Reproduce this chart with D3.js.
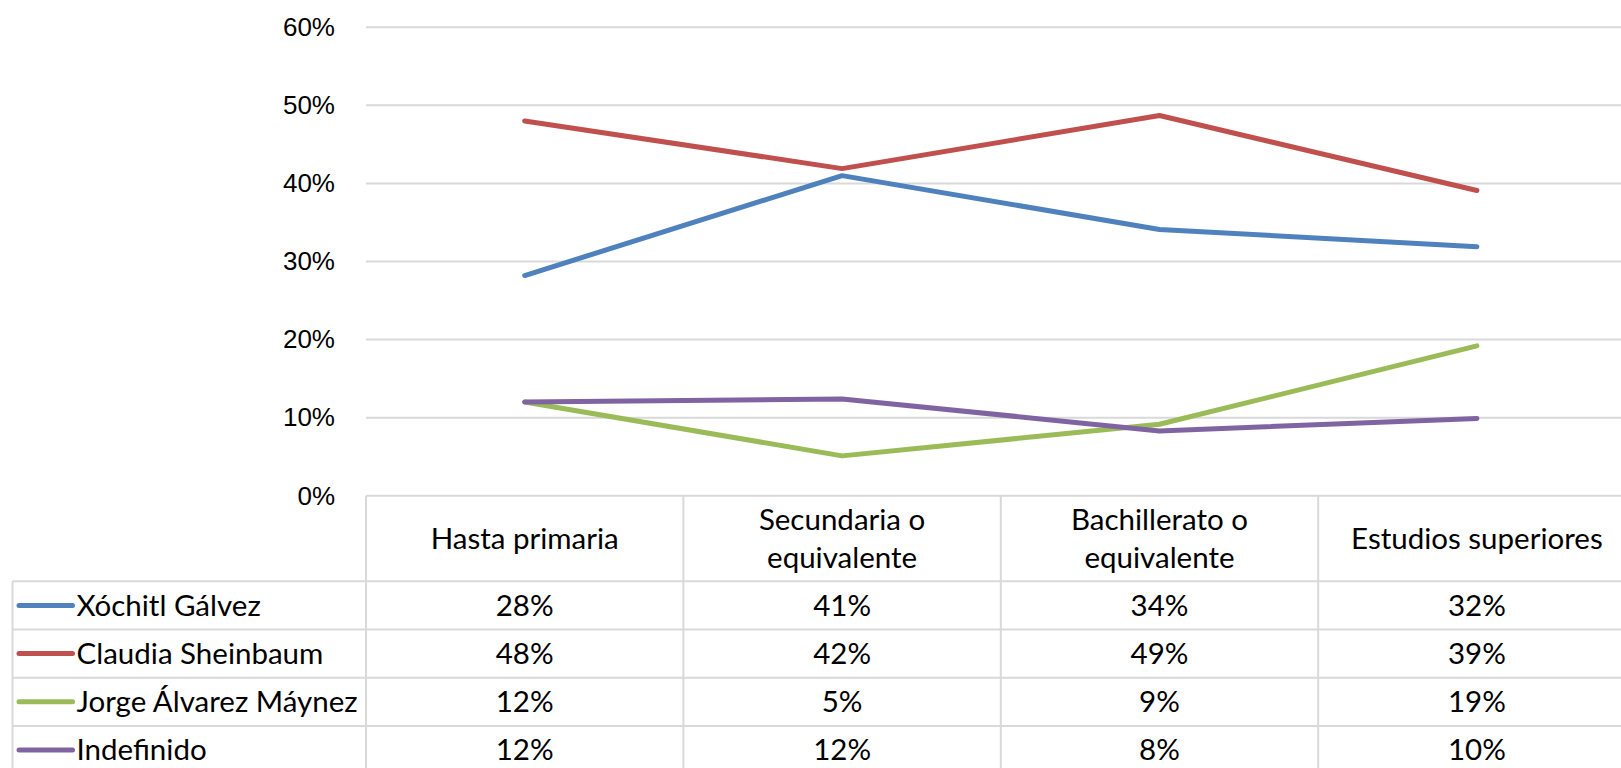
<!DOCTYPE html>
<html lang="es">
<head>
<meta charset="utf-8">
<script src="https://cdn.jsdelivr.net/npm/d3@7"></script>
<style>
  html, body { margin: 0; padding: 0; background: #ffffff; }
  svg { display: block; }
</style>
</head>
<body>
<svg id="chart" width="1621" height="768"></svg>
<script>
// Education levels (category axis / table columns)
const categories = [
  ["Hasta primaria"],
  ["Secundaria o", "equivalente"],
  ["Bachillerato o", "equivalente"],
  ["Estudios superiores"]
];
const categoryKeys = ["Hasta primaria", "Secundaria o equivalente", "Bachillerato o equivalente", "Estudios superiores"];

// Candidate names and their share per education level
const seriesNames = ["Xóchitl Gálvez", "Claudia Sheinbaum", "Jorge Álvarez Máynez", "Indefinido"];
const galvez     = [0.282, 0.410, 0.341, 0.319];
const sheinbaum  = [0.480, 0.419, 0.487, 0.391];
const maynez     = [0.120, 0.051, 0.0915, 0.192];
const indefinido = [0.120, 0.124, 0.083, 0.099];
const seriesColors = ["#4F81BD", "#C0504D", "#9BBB59", "#8064A2"];

// Value axis ticks
const yTicks = [0, 0.1, 0.2, 0.3, 0.4, 0.5, 0.6];

const series = [galvez, sheinbaum, maynez, indefinido].map((values, i) => ({
  name: seriesNames[i],
  color: seriesColors[i],
  values
}));

const svg = d3.select("#chart");
const W = 1621, H = 768;

// Layout
const plotLeft = 366, plotRight = 1635.6;
const plotTop = 27.3, plotBottom = 495.7;
const headerBottom = 581.3;
const rowH = 48.2;
const legendLeft = 12.5;
const gridColor = "#D9D9D9";
const tableFont = "Lato, 'Open Sans', sans-serif";
const tableSize = 29.5;
const lineW = 5;

const x = d3.scaleBand().domain(categoryKeys).range([plotLeft, plotRight]);
const y = d3.scaleLinear().domain([0, 0.6]).range([plotBottom, plotTop]);
const fmt = d3.format(".0%");

// Horizontal gridlines
svg.append("g")
  .selectAll("line")
  .data(yTicks.filter(t => t > 0))
  .join("line")
  .attr("x1", plotLeft).attr("x2", W)
  .attr("y1", d => y(d)).attr("y2", d => y(d))
  .attr("stroke", gridColor).attr("stroke-width", 2);

// Value axis labels
const yAxis = d3.axisLeft(y).tickValues(yTicks).tickFormat(fmt).tickSize(0).tickPadding(31);
const yg = svg.append("g").attr("transform", `translate(${plotLeft},0)`).call(yAxis);
yg.select(".domain").remove();
yg.selectAll("text")
  .attr("font-family", "'Liberation Sans', Arial, sans-serif")
  .attr("font-size", 26)
  .attr("fill", "#000");

// Lines
const line = d3.line()
  .x((d, i) => x(categoryKeys[i]) + x.bandwidth() / 2)
  .y(d => y(d));

svg.append("g")
  .selectAll("path")
  .data(series)
  .join("path")
  .attr("d", d => line(d.values))
  .attr("fill", "none")
  .attr("stroke", d => d.color)
  .attr("stroke-width", lineW)
  .attr("stroke-linecap", "round")
  .attr("stroke-linejoin", "round");

// Data table
const table = svg.append("g");
const rowTop = i => headerBottom + i * rowH;

// horizontal rules
table.append("line")
  .attr("x1", plotLeft).attr("x2", W)
  .attr("y1", plotBottom).attr("y2", plotBottom)
  .attr("stroke", gridColor).attr("stroke-width", 2);
table.selectAll("line.row")
  .data(d3.range(series.length + 1))
  .join("line")
  .attr("class", "row")
  .attr("x1", legendLeft).attr("x2", W)
  .attr("y1", d => rowTop(d)).attr("y2", d => rowTop(d))
  .attr("stroke", gridColor).attr("stroke-width", 2);

// vertical rules
table.append("line")
  .attr("x1", legendLeft).attr("x2", legendLeft)
  .attr("y1", headerBottom).attr("y2", H)
  .attr("stroke", gridColor).attr("stroke-width", 2);
table.selectAll("line.col")
  .data(categoryKeys)
  .join("line")
  .attr("class", "col")
  .attr("x1", d => x(d)).attr("x2", d => x(d))
  .attr("y1", plotBottom).attr("y2", H)
  .attr("stroke", gridColor).attr("stroke-width", 2);

// header labels
const headerMid = (plotBottom + headerBottom) / 2;
const lineGap = 38.5;
const headers = table.selectAll("text.head")
  .data(categories)
  .join("text")
  .attr("class", "head")
  .attr("text-anchor", "middle")
  .attr("font-family", tableFont)
  .attr("font-size", tableSize)
  .attr("fill", "#000");
headers.each(function (lines, i) {
  const cx = x(categoryKeys[i]) + x.bandwidth() / 2;
  const t = d3.select(this);
  lines.forEach((ln, j) => {
    t.append("tspan")
      .attr("x", cx)
      .attr("y", headerMid + (j - (lines.length - 1) / 2) * lineGap)
      .attr("dy", "0.35em")
      .text(ln);
  });
});

// legend keys and names
const rows = table.selectAll("g.srow")
  .data(series)
  .join("g")
  .attr("class", "srow")
  .attr("transform", (d, i) => `translate(0,${rowTop(i) + rowH / 2})`);

rows.append("line")
  .attr("x1", 19).attr("x2", 72.5)
  .attr("y1", 0).attr("y2", 0)
  .attr("stroke", d => d.color)
  .attr("stroke-width", lineW)
  .attr("stroke-linecap", "round");

rows.append("text")
  .attr("x", 76.5)
  .attr("dy", "0.35em")
  .attr("font-family", tableFont)
  .attr("font-size", tableSize)
  .attr("fill", "#000")
  .text(d => d.name);

rows.selectAll("text.val")
  .data(d => d.values)
  .join("text")
  .attr("class", "val")
  .attr("x", (v, i) => x(categoryKeys[i]) + x.bandwidth() / 2)
  .attr("dy", "0.35em")
  .attr("text-anchor", "middle")
  .attr("font-family", tableFont)
  .attr("font-size", tableSize)
  .attr("fill", "#000")
  .text(v => fmt(v));
</script>
</body>
</html>
